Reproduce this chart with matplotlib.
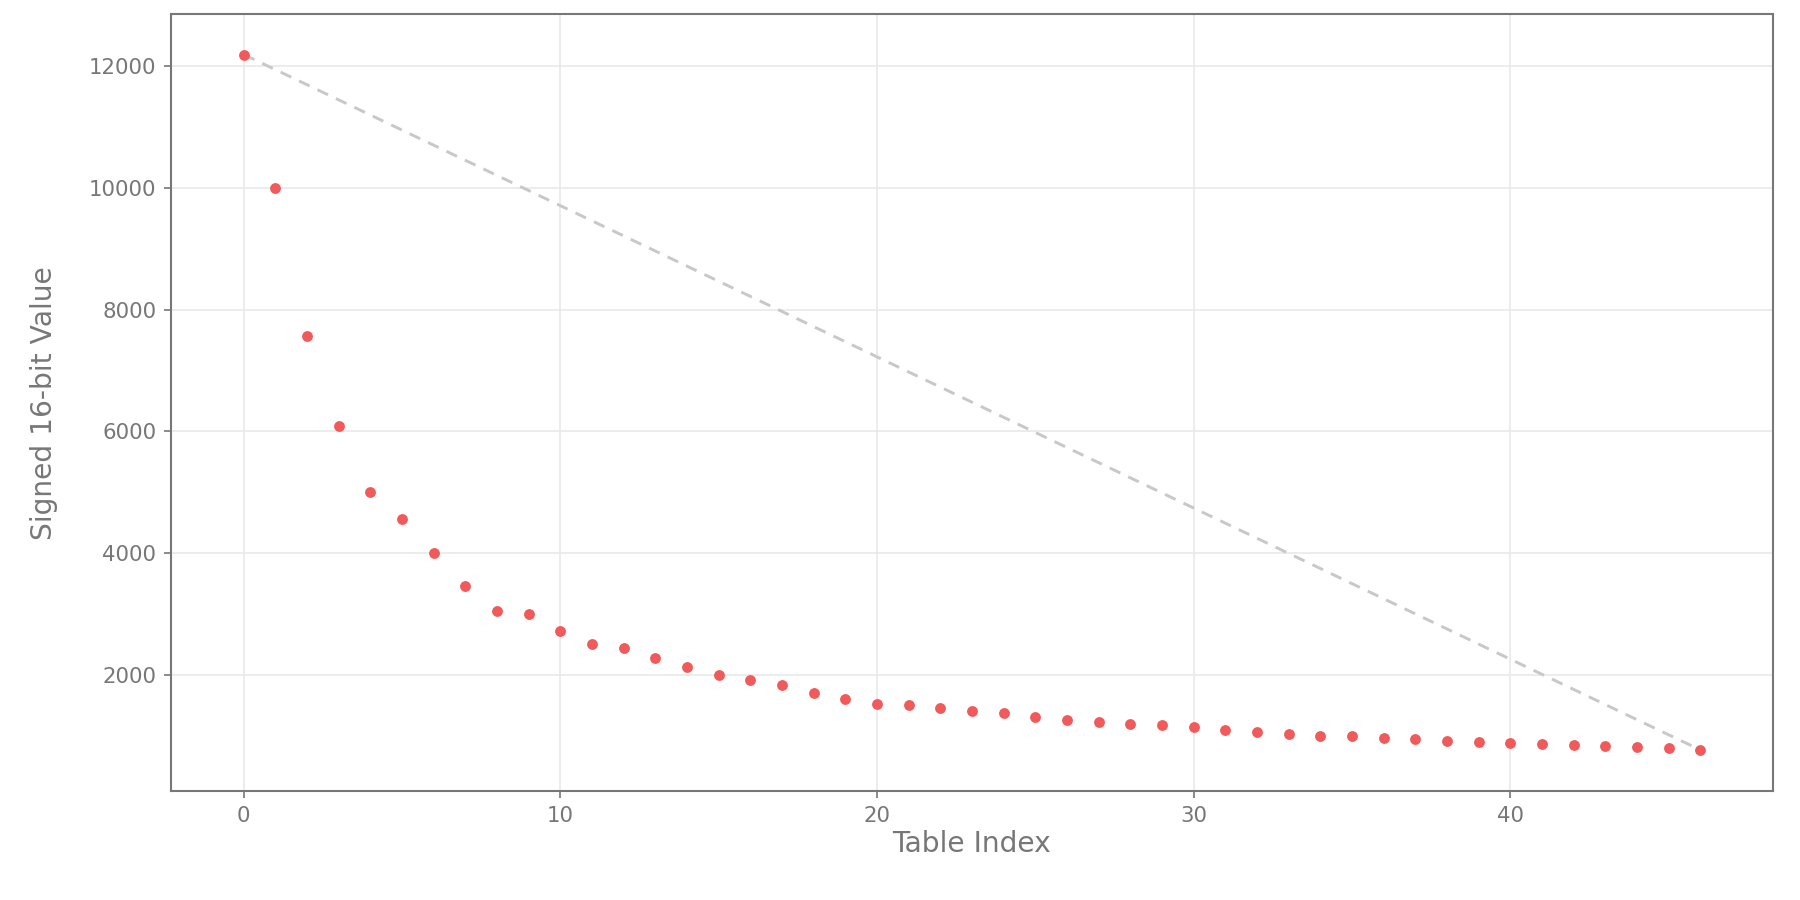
import numpy as np
from matplotlib import pyplot as plt

# table values
table_index = np.arange(47)
table_values = [
    12190, 10000, 7570, 6090, 5000, 4560, 4000, 3460, 3045, 2995,
    2715, 2500, 2435, 2270, 2125, 1990, 1908, 1826, 1697, 1598,
    1515, 1495, 1450, 1402, 1367, 1305, 1255, 1222, 1188, 1170,
    1136, 1093, 1056, 1018, 990, 990, 958, 941, 908, 893,
    870, 858, 843, 827, 814, 794, 763,
]

grey = '#777777'

fig, ax = plt.subplots(figsize=(12, 6), dpi=150)
fig.subplots_adjust(left=0.095, right=0.985, top=0.984, bottom=0.121)

# straight line from first to last entry
ax.plot([table_index[0], table_index[-1]], [table_values[0], table_values[-1]],
        linestyle=(0, (4, 3)), color='#c8c8c8', linewidth=1.4, zorder=2)
ax.scatter(table_index, table_values, s=27, color='#f05a5a', zorder=3, linewidths=0)

ax.set_xlim(-2.3, 48.3)
ax.set_ylim(85, 12850)
ax.set_xticks([0, 10, 20, 30, 40])
ax.set_yticks([2000, 4000, 6000, 8000, 10000, 12000])

ax.grid(True, color='#e9e9e9', linewidth=0.8, zorder=0)
ax.set_axisbelow(True)
for sp in ax.spines.values():
    sp.set_color(grey)
    sp.set_linewidth(1.0)
ax.tick_params(colors=grey, labelcolor=grey, labelsize=10.2, length=3.5, width=0.8)

ax.set_xlabel('Table Index', fontsize=13.5, color=grey, labelpad=2)
ax.set_ylabel('Signed 16-bit Value', fontsize=13.5, color=grey, labelpad=15)

plt.savefig('out.png')
